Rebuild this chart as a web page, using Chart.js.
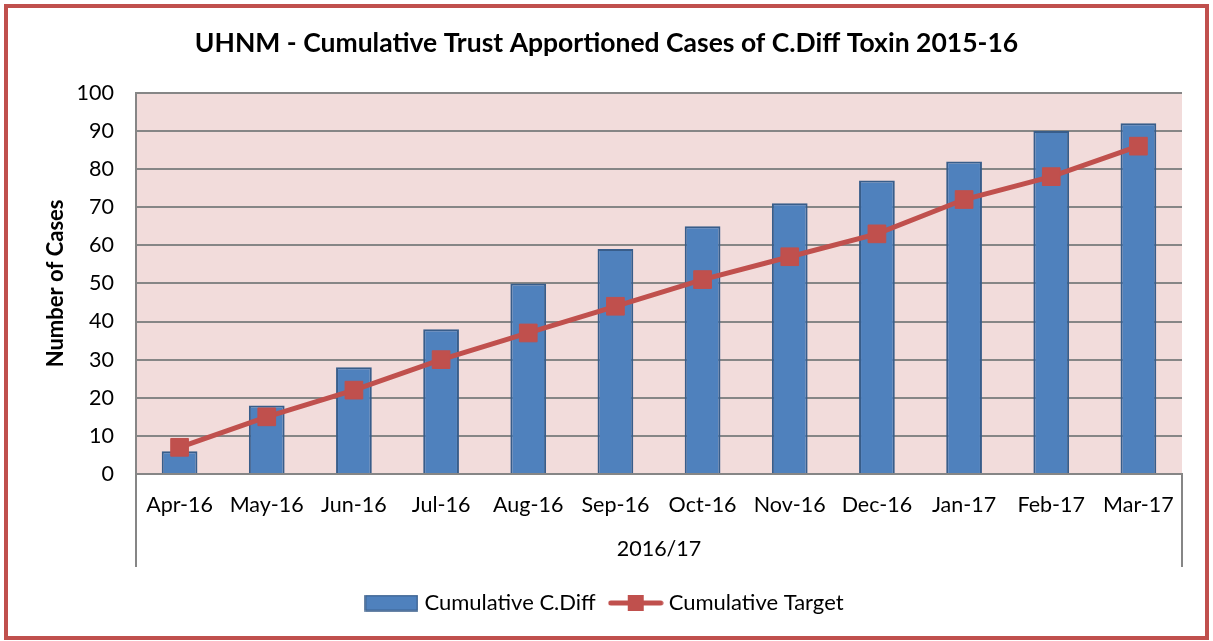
<!DOCTYPE html>
<html>
<head>
<meta charset="utf-8">
<script src="https://cdn.jsdelivr.net/npm/chart.js@4/dist/chart.umd.min.js"></script>
<style>
  html, body { margin: 0; padding: 0; background: #fff; }
  #wrap { width: 1213px; height: 641px; position: relative; }
</style>
</head>
<body>
<div id="wrap"><canvas id="c" width="1213" height="641"></canvas></div>
<script>
const categories = ['Apr-16','May-16','Jun-16','Jul-16','Aug-16','Sep-16','Oct-16','Nov-16','Dec-16','Jan-17','Feb-17','Mar-17'];
const cumulativeCDiff = [6, 18, 28, 38, 50, 59, 65, 71, 77, 82, 90, 92];
const cumulativeTarget = [7, 15, 22, 30, 37, 44, 51, 57, 63, 72, 78, 86];
const groupLabel = '2016/17';
const titleText = 'UHNM - Cumulative Trust Apportioned Cases of C.Diff Toxin 2015-16';

const FONT = 'Lato, "Open Sans", sans-serif';
const BLUE = '#4F81BD', BLUE_DARK = '#385D8A', RED = '#C0504D', GRID = '#868686';

function makeBarIcon() {
  const c = document.createElement('canvas'); c.width = 54; c.height = 17;
  const x = c.getContext('2d');
  x.fillStyle = BLUE; x.fillRect(1, 1, 52, 15);
  x.strokeStyle = BLUE_DARK; x.lineWidth = 1.5; x.strokeRect(1, 1, 52, 15);
  return c;
}
function makeLineIcon() {
  const c = document.createElement('canvas'); c.width = 56; c.height = 18;
  const x = c.getContext('2d');
  x.strokeStyle = RED; x.lineWidth = 5; x.lineCap = 'round';
  x.beginPath(); x.moveTo(3, 9); x.lineTo(53, 9); x.stroke();
  x.fillStyle = RED; x.fillRect(20, 1, 16, 16);
  return c;
}
const barIcon = makeBarIcon();
const lineIcon = makeLineIcon();

const decor = {
  id: 'decor',
  beforeDraw(chart) {
    const ctx = chart.ctx, a = chart.chartArea;
    ctx.save();
    ctx.fillStyle = '#fff';
    ctx.fillRect(0, 0, chart.width, chart.height);
    ctx.strokeStyle = RED; ctx.lineWidth = 4;
    ctx.strokeRect(6, 6, 1201, 632);
    ctx.fillStyle = '#F2DCDB';
    ctx.fillRect(a.left, a.top, a.right - a.left, a.bottom - a.top);
    ctx.restore();
  },
  afterDraw(chart) {
    const ctx = chart.ctx, a = chart.chartArea;
    ctx.save();
    ctx.strokeStyle = GRID; ctx.lineWidth = 2;
    ctx.beginPath();
    ctx.moveTo(a.left, a.bottom); ctx.lineTo(a.left, 567);
    ctx.moveTo(a.right, a.bottom); ctx.lineTo(a.right, 567);
    ctx.stroke();
    ctx.restore();
  }
};

new Chart(document.getElementById('c'), {
  data: {
    labels: categories,
    datasets: [
      {
        type: 'bar', label: 'Cumulative C.Diff', data: cumulativeCDiff,
        backgroundColor: BLUE, borderColor: BLUE_DARK, borderWidth: 2,
        categoryPercentage: 1, barPercentage: 0.41, order: 2,
        pointStyle: barIcon
      },
      {
        type: 'line', label: 'Cumulative Target', data: cumulativeTarget,
        borderColor: RED, borderWidth: 5, backgroundColor: RED,
        pointStyle: 'rect', pointRadius: 12.5, pointHoverRadius: 12.5,
        pointBackgroundColor: RED, pointBorderColor: RED, pointBorderWidth: 1,
        order: 1, tension: 0
      }
    ]
  },
  options: {
    responsive: false,
    animation: false,
    devicePixelRatio: 1,
    layout: { padding: { left: 31, right: 31, top: 0, bottom: 17 } },
    plugins: {
      title: {
        display: true, text: titleText, color: '#000',
        font: { family: FONT, size: 26.5, weight: 'bold' },
        padding: { top: 28, bottom: 33 }
      },
      legend: {
        position: 'bottom',
        labels: {
          usePointStyle: true,
          pointStyleWidth: 44,
          color: '#000',
          font: { family: FONT, size: 22 },
          padding: 18,
          generateLabels(chart) {
            return [
              { text: 'Cumulative C.Diff', pointStyle: barIcon, fillStyle: BLUE, strokeStyle: BLUE_DARK, lineWidth: 0, datasetIndex: 0, hidden: false },
              { text: 'Cumulative Target', pointStyle: lineIcon, fillStyle: RED, strokeStyle: RED, lineWidth: 0, datasetIndex: 1, hidden: false }
            ];
          }
        }
      },
      tooltip: { enabled: false }
    },
    scales: {
      x: {
        offset: true,
        grid: { display: false, drawTicks: false },
        border: { display: true, color: GRID, width: 2 },
        ticks: { color: '#000', font: { family: FONT, size: 21.5 }, padding: 18, maxRotation: 0, autoSkip: false },
        title: { display: true, text: groupLabel, color: '#000', font: { family: FONT, size: 21.5 }, padding: { top: 0, bottom: 12 } },
        afterFit(scale) { scale.height = 100; }
      },
      y: {
        min: 0, max: 100,
        ticks: { stepSize: 10, color: '#000', font: { family: FONT, size: 21.5 }, padding: 22 },
        grid: { color: GRID, lineWidth: 2, drawTicks: false },
        border: { display: true, color: GRID, width: 2 },
        title: { display: true, text: 'Number of Cases', color: '#000', font: { family: FONT, size: 22, weight: 'bold' }, padding: { top: 12, bottom: 0 } },
        afterFit(scale) { scale.width = 105; }
      }
    }
  },
  plugins: [decor]
});
</script>
</body>
</html>
